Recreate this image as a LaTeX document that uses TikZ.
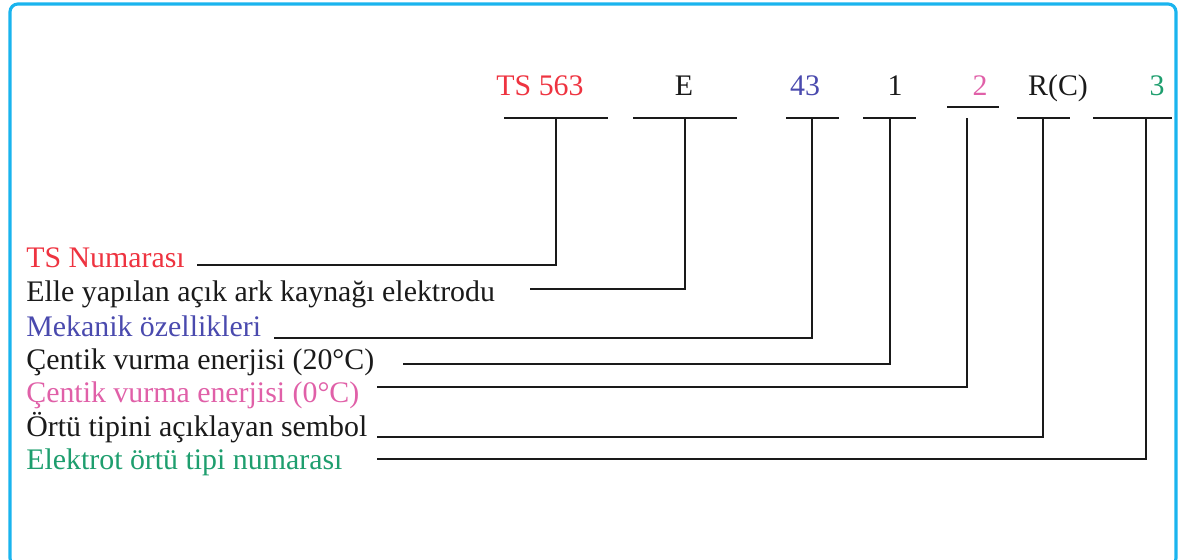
\documentclass[tikz,border=0pt]{standalone}
\usepackage{fontspec}
\setmainfont{LiberationSerif}[Extension=.ttf, UprightFont=*-Regular, BoldFont=*-Bold]
\usetikzlibrary{positioning,calc}
\definecolor{framecyan}{HTML}{1AB4EE}
\definecolor{ink}      {HTML}{1A1A1A}
\definecolor{tsred}    {HTML}{EE3340}
\definecolor{mekblue}  {HTML}{4A4AAE}
\definecolor{notchpink}{HTML}{E060A8}
\definecolor{coatgreen}{HTML}{1E9E6E}
\tikzset{
  codelbl/.style ={anchor=base, inner sep=0pt, text=ink,
                   font=\rmfamily\fontsize{17}{20}\selectfont},
  desclbl/.style ={anchor=base west, inner sep=0pt, text=ink,
                   font=\rmfamily\fontsize{17}{20}\selectfont},
  codebar/.style ={draw=ink, line width=1.1pt},
  leader/.style  ={draw=ink, line width=1.1pt},
  frameline/.style={draw=framecyan, line width=1.8pt, rounded corners=4.5pt},
}
\begin{document}
\begin{tikzpicture}[x=0.02cm,y=-0.02cm]
        \useasboundingbox (0,0) rectangle (1178,560);
        \clip (0,0) rectangle (1178,560);
        \path[frameline] (10,4) rectangle (1176,566);

        % code line
        \node[codelbl,text=tsred]     (ts)  at (540,96)  {TS 563};
        \node[codelbl]                (e)   at (684,96)  {E};
        \node[codelbl,text=mekblue]   (mek) at (805,96)  {43};
        \node[codelbl]                (c20) at (895,96)  {1};
        \node[codelbl,text=notchpink] (c0)  at (980,96)  {2};
        \node[codelbl]                (ort) at (1058,96) {R(C)};
        \node[codelbl,text=coatgreen] (el)  at (1157,96) {3};

        % bars under the code
        \draw[codebar] (504,118) -- (608,118);
        \draw[codebar] (633,118) -- (737,118);
        \draw[codebar] (786,118) -- (839,118);
        \draw[codebar] (863,118) -- (916,118);
        \draw[codebar] (947,107) -- (999,107);
        \draw[codebar] (1017,118) -- (1070,118);
        \draw[codebar] (1093,118) -- (1172,118);

        \coordinate (tsT)  at (556,118);
        \coordinate (eT)   at (685,118);
        \coordinate (mekT) at (812,118);
        \coordinate (c20T) at (890,118);
        \coordinate (c0T)  at (967,118);
        \coordinate (ortT) at (1043,118);
        \coordinate (elT)  at (1146,118);

        % descriptions
        \node[desclbl,text=tsred]     (tsd)  at (26,268) {TS Numarası};
        \node[desclbl]                (ed)   at (26,302) {Elle yapılan açık ark kaynağı elektrodu};
        \node[desclbl,text=mekblue]   (mekd) at (26,337) {Mekanik özellikleri};
        \node[desclbl]                (c20d) at (26,370) {Çentik vurma enerjisi (20°C)};
        \node[desclbl,text=notchpink] (c0d)  at (26,403) {Çentik vurma enerjisi (0°C)};
        \node[desclbl]                (ortd) at (26,437) {Örtü tipini açıklayan sembol};
        \node[desclbl,text=coatgreen] (eld)  at (26,470) {Elektrot örtü tipi numarası};

        \coordinate (tsL)  at (197,265);
        \coordinate (eL)   at (530,289);
        \coordinate (mekL) at (274,338);
        \coordinate (c20L) at (403,364);
        \coordinate (c0L)  at (377,387);
        \coordinate (ortL) at (377,437);
        \coordinate (elL)  at (377,459);

        % leaders
        \draw[leader] (tsL)  -| (tsT);
        \draw[leader] (eL)   -| (eT);
        \draw[leader] (mekL) -| (mekT);
        \draw[leader] (c20L) -| (c20T);
        \draw[leader] (c0L)  -| (c0T);
        \draw[leader] (ortL) -| (ortT);
        \draw[leader] (elL)  -| (elT);
      \end{tikzpicture}
\end{document}
